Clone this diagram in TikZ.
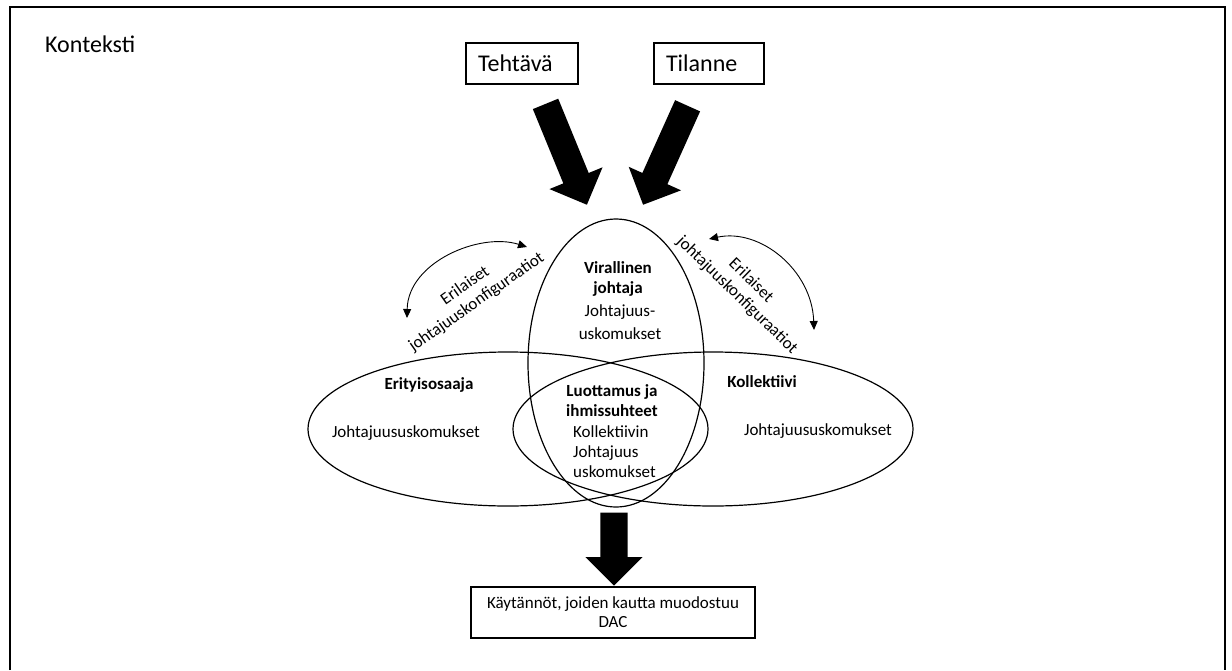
\documentclass[tikz,border=0pt]{standalone}
\usepackage{fontspec}
\setmainfont{Carlito}
\usetikzlibrary{shapes.geometric,shapes.arrows,arrows.meta}
\begin{document}
\begin{tikzpicture}[x=1pt,y=-1pt,
  venn/.style={ellipse, draw, line width=1.2pt, inner sep=0pt},
  framebox/.style={draw, line width=1.1pt, inner sep=0pt},
  fat/.style={single arrow, fill=black, draw=none, inner sep=13.5pt,
    single arrow head extend=15pt, single arrow tip angle=90,
    single arrow head indent=0pt, anchor=tip},
  big/.style={font=\fontsize{24}{28}\selectfont, inner sep=0pt},
  lbl/.style={font=\fontsize{17}{20}\selectfont, inner sep=0pt},
  bl/.style={font=\fontsize{17}{19.5}\selectfont\bfseries, inner sep=0pt, align=center},
  swing/.style={line width=0.9pt, {Triangle[length=9pt,width=8pt]}-{Triangle[length=9pt,width=8pt]}}
]
\useasboundingbox (0,0) rectangle (1232,670);

% open frame
\draw[line width=1.6pt] (10,670) -- (10,7) -- (1225,7) -- (1225,670);
\node[big, anchor=base west] (ctx) at (45,52) {Konteksti};

% input boxes
\node[framebox, big, minimum width=112pt, minimum height=41pt, text width=88pt,
  inner xsep=12pt, align=left] (task) at (522,63.5) {Tehtävä};
\node[framebox, big, minimum width=110pt, minimum height=41pt, text width=86pt,
  inner xsep=12pt, align=left] (sit) at (709,63.5) {Tilanne};

% Venn ellipses (the two wide ones overlap into the central lens)
\node[venn, minimum width=400pt, minimum height=154pt] (eri) at (508,429) {};
\node[venn, minimum width=400pt, minimum height=154pt] (kol) at (713,429) {};
\node[venn, minimum width=176pt, minimum height=288pt] (vir) at (616,363) {};

% result box
\node[framebox, lbl, minimum width=284pt, minimum height=51pt, align=center,
  font=\fontsize{17}{19}\selectfont] (dac) at (613,612.5)
  {Käytännöt, joiden kautta muodostuu\\DAC};

% thick arrows
\node[fat, minimum height=109pt, rotate=-67.7] (a1) at (587,205) {};
\node[fat, minimum height=108.5pt, rotate=-114.2] (a2) at (643,205) {};
\node[fat, minimum height=73pt, rotate=-90] (a3) at (614,586) {};

% texts inside the ellipses (base = baseline of the last line)
\node[bl, anchor=base] (virt) at (618,293) {Virallinen\\johtaja};
\node[lbl, anchor=base, align=center, font=\fontsize{17}{23}\selectfont] (virb) at (620,339) {Johtajuus-\\uskomukset};
\node[bl, anchor=base] (erit) at (429,389) {Erityisosaaja};
\node[lbl, anchor=base] (erib) at (406,437) {Johtajuususkomukset};
\node[bl, anchor=base] (kolt) at (762,387) {Kollektiivi};
\node[lbl, anchor=base] (kolb) at (818,435) {Johtajuususkomukset};
\node[bl, anchor=base, font=\fontsize{17}{20}\selectfont\bfseries] (luot) at (612,416) {Luottamus ja\\ihmissuhteet};
\node[lbl, anchor=base west, align=left] (luob) at (573,477) {Kollektiivin\\Johtajuus\\uskomukset};

% configuration labels and swinging arrows
\node[lbl, align=center, rotate=35] (cfgl) at (471,294) {Erilaiset\\johtajuuskonfiguraatiot};
\node[lbl, align=center, rotate=-44] (cfgr) at (744,288) {Erilaiset\\johtajuuskonfiguraatiot};
\coordinate (l1) at (527,247);
\coordinate (l2) at (407,318);
\coordinate (r1) at (709,239);
\coordinate (r2) at (814,330);
\draw[swing] (l1) .. controls (480,232) and (408,262) .. (l2);
\draw[swing] (r1) .. controls (760,228) and (812,270) .. (r2);
\end{tikzpicture}
\end{document}
